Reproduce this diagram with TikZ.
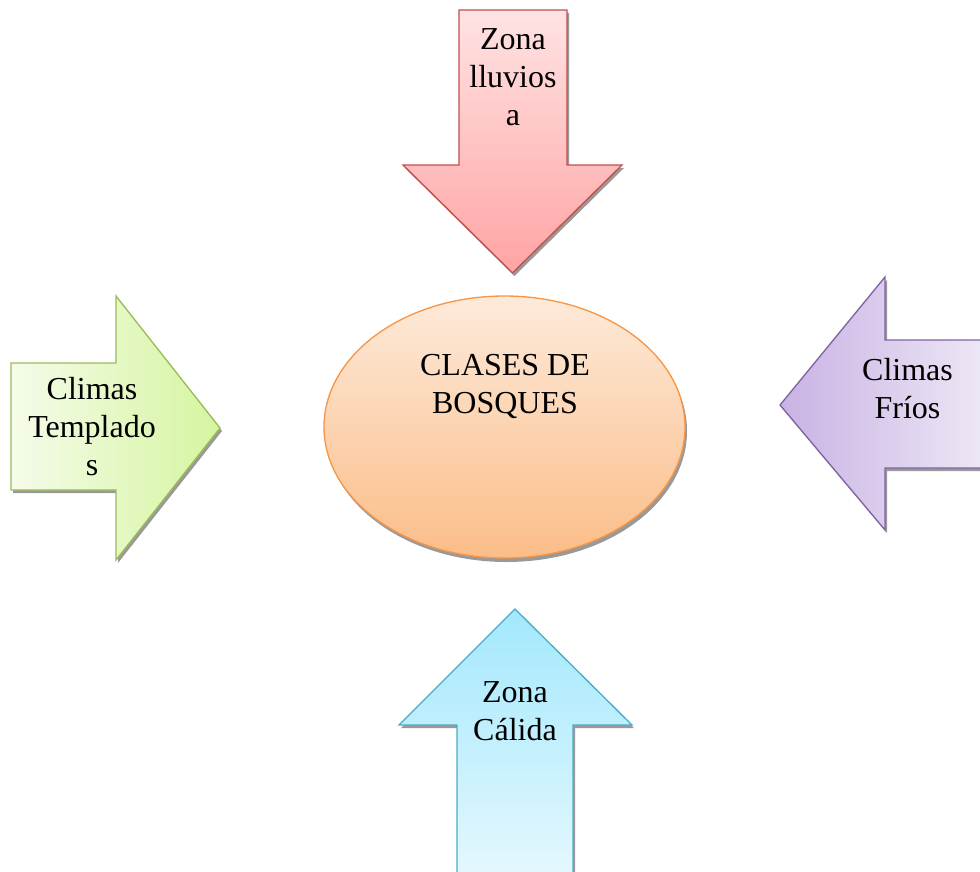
\documentclass[tikz,border=0pt]{standalone}
\usepackage{fontspec}
\setmainfont{Liberation Serif}
\definecolor{redline}{HTML}{C0504D}
\definecolor{redtop}{HTML}{FFE3E3}
\definecolor{redbot}{HTML}{FFA4A4}
\definecolor{greenline}{HTML}{9BBB59}
\definecolor{greenleft}{HTML}{F5FBEA}
\definecolor{greenright}{HTML}{D5F59F}
\definecolor{purpleline}{HTML}{8064A2}
\definecolor{purpleleft}{HTML}{C8B2E4}
\definecolor{purpleright}{HTML}{F0EBF7}
\definecolor{blueline}{HTML}{4BACC6}
\definecolor{bluetop}{HTML}{A3E8FD}
\definecolor{bluebot}{HTML}{E5F8FE}
\definecolor{orangeline}{HTML}{F79646}
\definecolor{orangetop}{HTML}{FDEADA}
\definecolor{orangebot}{HTML}{FBBD88}
\begin{document}
\begin{tikzpicture}[x=0.75pt,y=-0.75pt,
  lbl/.style={align=center, font=\fontsize{24}{28.5}\selectfont, inner sep=0pt, anchor=base},
  shadowfill/.style={fill=black!40, draw=none},
  outline/.style={line width=1pt}]
\useasboundingbox (0,0) rectangle (980,871);
\clip (0,0) rectangle (980,871);

% shadows
\begin{scope}[shift={(2,3)}]
  \fill[shadowfill] (459,10) -- (567,10) -- (567,165) -- (622,165) -- (512.5,273) -- (403,165) -- (459,165) -- cycle;
  \fill[shadowfill] (11,363) -- (116,363) -- (116,296) -- (220,428) -- (116,560) -- (116,490) -- (11,490) -- cycle;
  \fill[shadowfill] (1000,340) -- (885,340) -- (885,277) -- (780,405) -- (885,530) -- (885,468) -- (1000,468) -- cycle;
  \fill[shadowfill] (457,880) -- (457,725) -- (399,725) -- (515,609) -- (632,725) -- (573,725) -- (573,880) -- cycle;
  \fill[shadowfill] (504.5,428) ellipse [x radius=180.5, y radius=131];
\end{scope}

% red arrow (down)
\draw[outline, draw=redline, top color=redtop, bottom color=redbot]
  (459,10) -- (567,10) -- (567,165) -- (622,165) -- (512.5,273) -- (403,165) -- (459,165) -- cycle;
% green arrow (right)
\draw[outline, draw=greenline, left color=greenleft, right color=greenright]
  (11,363) -- (116,363) -- (116,296) -- (220,428) -- (116,560) -- (116,490) -- (11,490) -- cycle;
% purple arrow (left)
\draw[outline, draw=purpleline, left color=purpleleft, right color=purpleright]
  (1000,340) -- (885,340) -- (885,277) -- (780,405) -- (885,530) -- (885,468) -- (1000,468) -- cycle;
% blue arrow (up)
\draw[outline, draw=blueline, top color=bluetop, bottom color=bluebot]
  (457,880) -- (457,725) -- (399,725) -- (515,609) -- (632,725) -- (573,725) -- (573,880) -- cycle;
% central ellipse
\draw[outline, draw=orangeline, top color=orangetop, bottom color=orangebot]
  (504.5,427) ellipse [x radius=180.5, y radius=131];

% labels (base anchor = baseline of the last line)
\node[lbl] (lluviosa) at (513,125) {Zona\\lluvios\\a};
\node[lbl] (templados) at (92,475) {Climas\\Templado\\s};
\node[lbl] (frios) at (907.5,418) {Climas\\Fríos};
\node[lbl] (calida) at (515,740) {Zona\\Cálida};
\node[lbl] (clases) at (505,413) {CLASES DE\\BOSQUES};
\end{tikzpicture}
\end{document}
